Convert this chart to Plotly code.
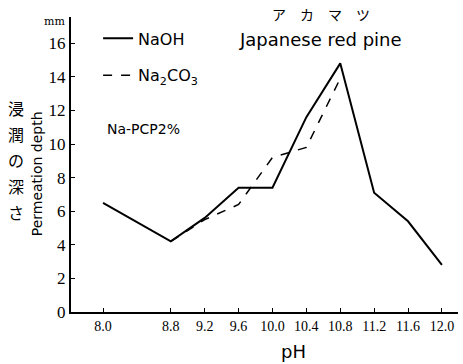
import plotly.graph_objects as go

ph_naoh = [8.0, 8.8, 9.2, 9.6, 10.0, 10.4, 10.8, 11.2, 11.6, 12.0]
depth_naoh = [6.5, 4.2, 5.6, 7.4, 7.4, 11.6, 14.8, 7.1, 5.4, 2.8]

ph_na2co3 = [8.8, 9.2, 9.6, 10.0, 10.4, 10.8]
depth_na2co3 = [4.2, 5.5, 6.4, 9.2, 9.8, 13.9]

x_ticks = [8.0, 8.8, 9.2, 9.6, 10.0, 10.4, 10.8, 11.2, 11.6, 12.0]
x_tick_labels = ["8.0", "8.8", "9.2", "9.6", "10.0", "10.4", "10.8", "11.2", "11.6", "12.0"]
y_ticks = [0, 2, 4, 6, 8, 10, 12, 14, 16]

fig = go.Figure()
fig.add_trace(go.Scatter(x=ph_naoh, y=depth_naoh, mode="lines", name="NaOH",
                         legendgroup="a",
                         line=dict(color="black", width=2)))
fig.add_trace(go.Scatter(x=ph_na2co3, y=depth_na2co3, mode="lines",
                         name="Na<sub>2</sub>CO<sub>3</sub>", legendgroup="b",
                         line=dict(color="black", width=1.5, dash="dash")))

fig.update_layout(
    width=463, height=364,
    margin=dict(l=71, r=5, t=17, b=52),
    plot_bgcolor="white", paper_bgcolor="white",
    font=dict(family="DejaVu Sans", color="black"),
    showlegend=True,
    legend=dict(x=0.07, y=0.985, xanchor="left", yanchor="top",
                bgcolor="rgba(0,0,0,0)", font=dict(size=16, family="DejaVu Sans"),
                traceorder="grouped", tracegroupgap=13, itemwidth=30),
    xaxis=dict(range=[7.622, 12.19], tickmode="array", tickvals=x_ticks,
               ticktext=x_tick_labels, showgrid=False, zeroline=False,
               showline=True, linecolor="black", linewidth=2,
               ticks="inside", ticklen=4, tickcolor="black",
               tickfont=dict(family="Liberation Sans Narrow", size=14),
               title=dict(text="")),
    yaxis=dict(range=[0, 17.56], tickmode="array", tickvals=y_ticks,
               showgrid=False, zeroline=False,
               showline=True, linecolor="black", linewidth=2,
               ticks="inside", ticklen=4, tickcolor="black",
               tickfont=dict(family="Liberation Sans Narrow", size=17),
               title=dict(text="")),
)

fig.add_annotation(text="pH", xref="paper", yref="paper", x=0.575, y=-0.135,
                   xanchor="center", yanchor="middle", showarrow=False,
                   font=dict(size=18))
fig.add_annotation(text="mm", xref="paper", yref="paper", x=-0.01, y=0.985,
                   xanchor="right", yanchor="middle", showarrow=False,
                   font=dict(size=11, family="DejaVu Serif"))
fig.add_annotation(text="Permeation depth", xref="paper", yref="paper",
                   x=-0.088, y=0.47, xanchor="center", yanchor="middle",
                   textangle=-90, showarrow=False, font=dict(size=14))
# vertical Japanese label, one upright character per line
for i, ch in enumerate("浸潤の深さ"):
    py = 108 + 26 * i
    fig.add_annotation(text=ch, xref="paper", yref="paper",
                       x=-0.143, y=(312 - py) / 295, xanchor="center",
                       yanchor="middle", showarrow=False,
                       font=dict(size=16, family="Noto Sans CJK JP"))
fig.add_annotation(text="ア　カ　マ　ツ", xref="paper", yref="paper",
                   x=0.645, y=1.01, xanchor="center", yanchor="middle",
                   showarrow=False, font=dict(size=14, family="Noto Sans CJK JP"))
fig.add_annotation(text="Japanese red pine", xref="paper", yref="paper",
                   x=0.645, y=0.925, xanchor="center", yanchor="middle",
                   showarrow=False, font=dict(size=18))
fig.add_annotation(text="Na-PCP2%", xref="paper", yref="paper",
                   x=0.088, y=0.62, xanchor="left", yanchor="middle",
                   showarrow=False, font=dict(size=14))

fig.write_html("out.html")
